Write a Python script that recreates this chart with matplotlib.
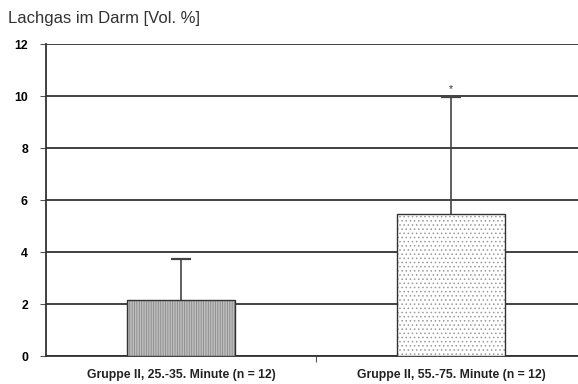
import matplotlib
matplotlib.use("Agg")
import matplotlib.pyplot as plt
import numpy as np

categories = ["Gruppe II, 25.-35. Minute (n = 12)", "Gruppe II, 55.-75. Minute (n = 12)"]
means = [2.15, 5.47]
upper_err = [1.58, 4.48]
significance = ["", "*"]
yticks = [0, 2, 4, 6, 8, 10, 12]

plt.rcParams['hatch.linewidth'] = 0.6
plt.rcParams['font.family'] = ['Liberation Sans', 'DejaVu Sans']
fig = plt.figure(figsize=(5.78, 3.84), dpi=100)
ax = fig.add_axes([0.0796, 0.0729, 0.934, 0.8125])

x = np.arange(len(categories))
ax.set_xlim(-0.5, 1.5)
ax.set_ylim(0, 12)
ax.set_yticks(yticks)
ax.grid(axis='y', color='#333333', linewidth=1.3)
ax.set_axisbelow(True)

facecolors = ['#bdbdbd', 'white']
hatches = ['|||||||', '....']
hatchcols = ['#8a8a8a', '#9a9a9a']
for i in range(len(categories)):
    top = means[i] + upper_err[i]
    ax.errorbar(x[i], means[i], yerr=[[0], [upper_err[i]]], fmt='none',
                ecolor='#444444', elinewidth=1.2, capsize=0, zorder=2)
    ax.plot([x[i]], [top], marker='_', markersize=15, markeredgewidth=1.6,
            color='#444444', zorder=2)
    ax.bar(x[i], means[i], width=0.4, facecolor=facecolors[i], edgecolor=hatchcols[i],
           hatch=hatches[i], linewidth=0, zorder=3)
    ax.bar(x[i], means[i], width=0.4, facecolor='none', edgecolor='#333333',
           linewidth=1.0, zorder=4)
    if significance[i]:
        ax.text(x[i], top + 0.12, significance[i], ha='center',
                va='bottom', fontsize=7.5, color='#333333')

ax.set_xticks([0.5])
ax.set_xticklabels([''])
ax.tick_params(axis='x', length=4, color='#555555')
ax.tick_params(axis='y', length=4, color='#555555', labelsize=8.8, pad=9)
for lbl in ax.get_yticklabels():
    lbl.set_fontweight('bold')
for i, c in enumerate(categories):
    ax.text(x[i], -0.5, c, ha='center', va='top', fontsize=8.8, fontweight='bold',
            color='#222222', transform=ax.transData)

for s in ['top', 'right']:
    ax.spines[s].set_visible(False)
ax.spines['left'].set_color('#333333')
ax.spines['left'].set_linewidth(1.3)
ax.spines['bottom'].set_color('#333333')
ax.spines['bottom'].set_linewidth(1.3)

fig.text(0.014, 0.953, "Lachgas im Darm [Vol. %]", fontsize=12, color='#333333',
         ha='left', va='center')

fig.savefig("out.png", dpi=100)
